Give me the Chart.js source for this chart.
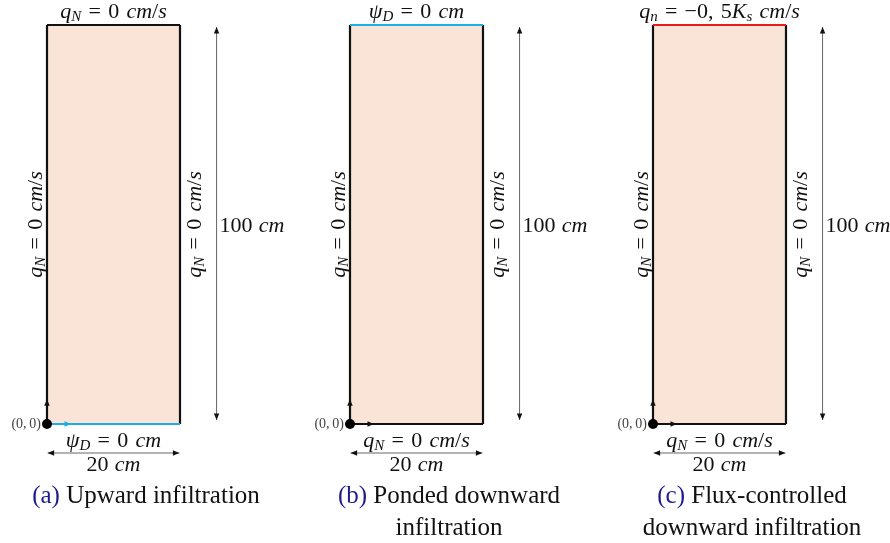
<!DOCTYPE html>
<html>
<head>
<meta charset="utf-8">
<script src="https://cdn.jsdelivr.net/npm/chart.js@4.4.0/dist/chart.umd.min.js"></script>
<style>
  body { margin: 0; background: #fff; }
  #wrap { position: relative; width: 890px; height: 543px; }
  canvas { position: absolute; top: 0; }
</style>
</head>
<body>
<div id="wrap">
  <canvas id="panelA"></canvas>
  <canvas id="panelB"></canvas>
  <canvas id="panelC"></canvas>
</div>
<script>
// domain data (cm)
const panelIds = ["panelA", "panelB", "panelC"];
const panelTags = ["(a)", "(b)", "(c)"];
const captions = [["Upward infiltration"], ["Ponded downward", "infiltration"], ["Flux-controlled", "downward infiltration"]];
const domainWidth = [20, 20, 20];
const domainHeight = [100, 100, 100];
const topConditions = ["q_N = 0 cm/s", "ψ_D = 0 cm", "q_n = −0, 5K_s cm/s"];
const bottomConditions = ["ψ_D = 0 cm", "q_N = 0 cm/s", "q_N = 0 cm/s"];
const sideCondition = "q_N = 0 cm/s";
const originLabel = "(0, 0)";

// which edge is a Dirichlet / flux boundary
const topKind = ["none", "dirichlet", "flux"];
const bottomKind = ["dirichlet", "none", "none"];

const edgeColor = { none: "#111", dirichlet: "#1aaee6", flux: "#ee1a1a" };
const SERIF = '"Liberation Serif", "DejaVu Serif", serif';

// draw a tiny latex-ish string: letters italic, _X subscript
function drawMath(ctx, str, x, y, size, align, spaceW) {
  const runs = [];
  for (let i = 0; i < str.length; i++) {
    const c = str[i];
    if (c === "_") {
      runs.push({ t: str[i + 1], sub: true, it: true });
      i++;
    } else if (c === " ") {
      runs.push({ t: " ", sp: true });
    } else {
      runs.push({ t: c, it: /[A-Za-zψ]/.test(c) });
    }
  }
  const fontFor = r => (r.it ? "italic " : "") + (r.sub ? Math.round(size * 0.7) : size) + "px " + SERIF;
  let w = 0;
  runs.forEach(r => {
    if (r.sp) { r.w = size * (spaceW || 0.33); } else { ctx.font = fontFor(r); r.w = ctx.measureText(r.t).width; }
    w += r.w;
  });
  let cx = align === "center" ? x - w / 2 : (align === "right" ? x - w : x);
  ctx.textBaseline = "middle";
  ctx.textAlign = "left";
  runs.forEach(r => {
    if (!r.sp) {
      ctx.font = fontFor(r);
      ctx.fillText(r.t, cx, r.sub ? y + size * 0.25 : y);
    }
    cx += r.w;
  });
}

function arrowHead(ctx, x1, y1, x2, y2, len) {
  const a = Math.atan2(y2 - y1, x2 - x1);
  ctx.beginPath();
  ctx.moveTo(x2, y2);
  ctx.lineTo(x2 - len * Math.cos(a - 0.4), y2 - len * Math.sin(a - 0.4));
  ctx.lineTo(x2 - len * Math.cos(a + 0.4), y2 - len * Math.sin(a + 0.4));
  ctx.closePath();
  ctx.fill();
}

const annotate = {
  id: "annotate",
  afterDatasetsDraw(chart) {
    const ctx = chart.ctx;
    const xs = chart.scales.x, ys = chart.scales.y;
    const k = chart.options.plugins.annotate.index;
    ctx.save();
    // arrowheads
    chart.data.datasets.forEach(ds => {
      if (!ds.arrow) return;
      const p = ds.data;
      const a = { x: xs.getPixelForValue(p[0].x), y: ys.getPixelForValue(p[0].y) };
      const b = { x: xs.getPixelForValue(p[1].x), y: ys.getPixelForValue(p[1].y) };
      ctx.fillStyle = ds.headColor || "#111";
      arrowHead(ctx, a.x, a.y, b.x, b.y, 7);
      if (ds.arrow === "both") arrowHead(ctx, b.x, b.y, a.x, a.y, 7);
    });
    const W = domainWidth[k], H = domainHeight[k];
    const cx = xs.getPixelForValue(W / 2);
    const cy = ys.getPixelForValue(H / 2);
    const top = ys.getPixelForValue(H), bot = ys.getPixelForValue(0);
    const left = xs.getPixelForValue(0), right = xs.getPixelForValue(W);
    ctx.fillStyle = "#111";
    drawMath(ctx, topConditions[k], cx, top - 13, 22, "center");
    drawMath(ctx, bottomConditions[k], cx, bot + 17, 22, "center");
    drawMath(ctx, domainWidth[k] + " cm", cx, bot + 41, 22, "center", 0.28);
    drawMath(ctx, domainHeight[k] + " cm", xs.getPixelForValue(W * 1.275) + 3, cy + 2, 22, "left", 0.28);
    // side labels, rotated
    [left - 11, right + 15].forEach(px => {
      ctx.save();
      ctx.translate(px, cy);
      ctx.rotate(-Math.PI / 2);
      drawMath(ctx, sideCondition, 0, 0, 22, "center");
      ctx.restore();
    });
    ctx.fillStyle = "#444";
    drawMath(ctx, originLabel, left - 6, bot, 14, "right", 0.2);
    // caption
    const capX = left + 99;
    captions[k].forEach((line, i) => {
      const y = bot + 72 + i * 32;
      ctx.font = "25px " + SERIF;
      ctx.textBaseline = "middle";
      let full = line;
      let tagW = 0;
      if (i === 0) {
        tagW = ctx.measureText(panelTags[k] + " ").width;
        full = panelTags[k] + " " + line;
      }
      const w = ctx.measureText(full).width;
      let x = capX - w / 2;
      ctx.textAlign = "left";
      if (i === 0) {
        ctx.fillStyle = "#1c1c8c";
        ctx.fillText(panelTags[k], x, y);
        x += tagW;
      }
      ctx.fillStyle = "#111";
      ctx.fillText(line, x, y);
    });
    ctx.restore();
  }
};

const lefts = [0, 303, 606];
const widths = [303, 303, 284];

panelIds.forEach((id, k) => {
  const cv = document.getElementById(id);
  cv.width = widths[k];
  cv.height = 543;
  cv.style.left = lefts[k] + "px";
  const W = domainWidth[k], H = domainHeight[k];
  const line = (pts, color, width, extra) => Object.assign({
    type: "line", data: pts, borderColor: color, borderWidth: width,
    pointRadius: 0, fill: false, clip: false, tension: 0, order: 1
  }, extra || {});
  const bottomCol = edgeColor[bottomKind[k]];
  new Chart(cv, {
    type: "scatter",
    data: {
      datasets: [
        line([{ x: 0, y: H }, { x: W, y: H }], "rgba(0,0,0,0)", 0, { fill: "origin", backgroundColor: "#fae3d7", clip: true, order: 10 }),
        line([{ x: 0, y: 0 }, { x: 0, y: H }], "#111", 2.2),
        line([{ x: W, y: 0 }, { x: W, y: H }], "#111", 2.2),
        line([{ x: 0, y: H }, { x: W, y: H }], edgeColor[topKind[k]], 2.2, { order: 0 }),
        line([{ x: 0, y: 0 }, { x: W, y: 0 }], bottomCol, 2.2, { order: 0 }),
        // dimension arrows
        line([{ x: W * 1.275, y: H * 0.01 }, { x: W * 1.275, y: H * 0.995 }], "#666", 1, { arrow: "both" }),
        line([{ x: W * 0.005, y: -H * 0.0727 }, { x: W * 0.995, y: -H * 0.0727 }], "#666", 1, { arrow: "both" }),
        // axis arrows at origin
        line([{ x: 0, y: 0 }, { x: 0, y: H * 0.062 }], "#111", 1.5, { arrow: "end", order: -1 }),
        line([{ x: 0, y: 0 }, { x: W * 0.18, y: 0 }], bottomCol, 1.5, { arrow: "end", headColor: bottomKind[k] === "none" ? "#111" : bottomCol, order: -1 }),
        { type: "scatter", data: [{ x: 0, y: 0 }], pointRadius: 5, backgroundColor: "#000", borderWidth: 0, clip: false, order: -2 }
      ]
    },
    options: {
      responsive: false,
      animation: false,
      layout: { padding: { left: 47, right: widths[k] - 180, top: 25, bottom: 543 - 424 } },
      scales: {
        x: { type: "linear", min: 0, max: W, display: false },
        y: { type: "linear", min: 0, max: H, display: false }
      },
      plugins: { legend: { display: false }, tooltip: { enabled: false }, annotate: { index: k } }
    },
    plugins: [annotate]
  });
});
</script>
</body>
</html>
